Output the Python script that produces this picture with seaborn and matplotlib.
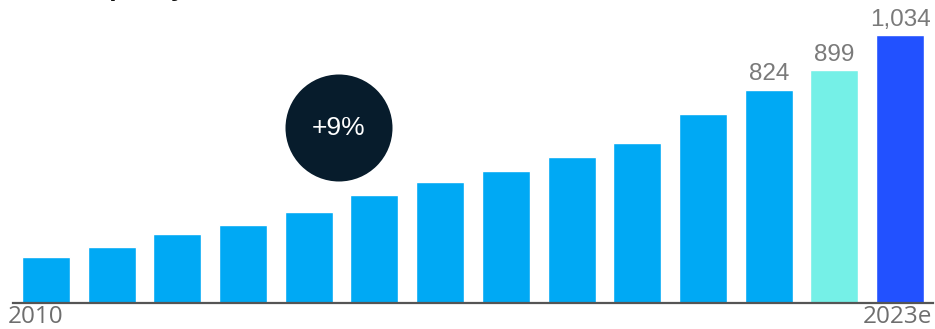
import matplotlib
matplotlib.use("Agg")
import matplotlib.pyplot as plt
import seaborn as sns
import pandas as pd
from matplotlib.patches import Circle

years = ["2010", "2011", "2012", "2013", "2014", "2015", "2016",
         "2017", "2018", "2019", "2020", "2021", "2022", "2023e"]
capacity = [178, 216, 266, 301, 351, 417, 467, 510, 564, 618, 730, 824, 899, 1034]
labelled = ["2021", "2022", "2023e"]
bar_colors = ["#00A9F4"] * 12 + ["#75F0E7", "#2251FF"]
cagr_text = "+9%"

sns.set_theme(style="white")
plt.rcParams["font.family"] = ["Liberation Sans", "DejaVu Sans"]

df = pd.DataFrame({"year": years, "capacity": capacity})

fig = plt.figure(figsize=(9.35, 3.29), dpi=100)
ax = fig.add_axes([13 / 935, 26 / 329, 920 / 935, 303 / 329])

sns.barplot(data=df, x="year", y="capacity", hue="year", palette=bar_colors,
            legend=False, width=0.73, saturation=1, ax=ax)

ax.set_xlim(-0.5, len(years) - 0.5)
ax.set_ylim(0, 1170)
ax.set_xlabel("")
ax.set_ylabel("")
ax.set_xticks([])
ax.set_yticks([])
for side in ("left", "right", "top"):
    ax.spines[side].set_visible(False)
ax.spines["bottom"].set_color("#555555")
ax.spines["bottom"].set_linewidth(1.6)

# value labels on the latest bars
for yr, val in zip(years, capacity):
    if yr in labelled:
        i = years.index(yr)
        ax.annotate(f"{val:,}", (i, val), xytext=(0, 3), textcoords="offset points",
                    ha="center", va="bottom", fontsize=17.5, color="#7a7a7a")

# first and last year under the axis
fig.text(8 / 935, 1 - 323 / 329, years[0], ha="left", va="baseline",
         fontsize=17.5, color="#6e6e6e", family=["Open Sans", "DejaVu Sans"])
fig.text(932 / 935, 1 - 323 / 329, years[-1], ha="right", va="baseline",
         fontsize=17.5, color="#6e6e6e", family=["Open Sans", "DejaVu Sans"])

# growth bubble
circ = Circle((339 / 100, (329 - 128) / 100), 0.535, transform=fig.dpi_scale_trans,
              facecolor="#071C2C", edgecolor="none", zorder=5)
fig.patches.append(circ)
fig.text(339 / 935, 1 - 128 / 329, cagr_text, ha="center", va="center",
         fontsize=19, color="white", zorder=6)

# heading sitting above the chart area
fig.text(80 / 935, 1 - (-4) / 329, "capacity,", ha="left", va="baseline",
         fontsize=19, fontweight="bold", color="#111111")

fig.savefig("out.png", dpi=100)
